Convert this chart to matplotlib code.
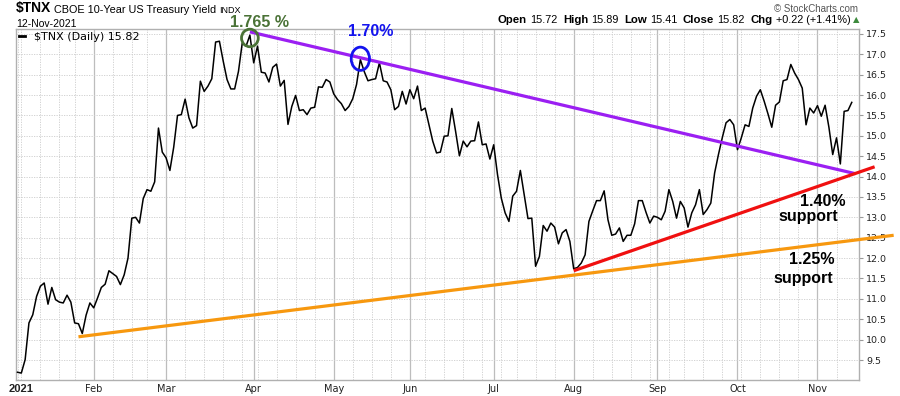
import numpy as np
import pandas as pd
import matplotlib
matplotlib.use("Agg")
import matplotlib.pyplot as plt
from matplotlib.patches import Ellipse
from matplotlib.lines import Line2D

# trading calendar (daily closes from 31-Dec-2020 to 12-Nov-2021)
holidays = ["2021-01-01", "2021-01-18", "2021-02-15", "2021-04-02", "2021-05-31",
            "2021-07-05", "2021-09-06", "2021-11-25"]
calendar = pd.bdate_range("2020-12-31", "2021-11-30", freq="C", holidays=holidays)
first_day, last_day = "2020-12-31", "2021-11-12"

# $TNX daily closes (yield x10)
tnx_close = [
    9.20,
    # Jan
    9.18, 9.51, 10.41, 10.61, 11.06, 11.31, 11.39, 10.87, 11.28, 10.98,
    10.92, 10.90, 11.09, 10.92, 10.41, 10.39, 10.15, 10.60, 10.90,
    # Feb
    10.78, 11.02, 11.28, 11.36, 11.69, 11.62, 11.55, 11.35, 11.59, 12.00,
    12.98, 13.00, 12.86, 13.46, 13.68, 13.64, 13.87, 15.19, 14.60,
    # Mar
    14.46, 14.15, 14.72, 15.50, 15.52, 15.90, 15.44, 15.19, 15.25, 16.34,
    16.09, 16.22, 16.40, 17.30, 17.32, 16.83, 16.38, 16.15, 16.15, 16.58,
    17.28, 17.20, 17.47,
    # Apr
    16.79, 17.20, 16.56, 16.54, 16.32, 16.68, 16.76, 16.22, 16.36, 15.28,
    15.72, 15.99, 15.62, 15.64, 15.52, 15.68, 15.70, 16.20, 16.19, 16.38, 16.32,
    # May
    16.03, 15.89, 15.79, 15.62, 15.72, 15.91, 16.26, 16.87, 16.58, 16.35,
    16.38, 16.40, 16.79, 16.35, 16.32, 16.13, 15.64, 15.72, 16.09, 15.78,
    # Jun
    16.13, 15.91, 16.22, 15.62, 15.68, 15.28, 14.87, 14.58, 14.60, 14.99,
    15.00, 15.67, 15.11, 14.51, 14.87, 14.73, 14.87, 14.88, 15.34, 14.78,
    14.80, 14.43,
    # Jul
    14.78, 14.05, 13.47, 13.11, 12.90, 13.52, 13.64, 14.15, 13.56, 12.97,
    12.98, 11.80, 12.04, 12.80, 12.66, 12.86, 12.76, 12.35, 12.62, 12.70, 12.41,
    # Aug
    11.74, 11.77, 11.88, 12.08, 12.90, 13.16, 13.41, 13.41, 13.65, 12.94,
    12.56, 12.59, 12.74, 12.41, 12.56, 12.56, 12.84, 13.41, 13.41, 13.12,
    12.86, 13.03,
    # Sep
    13.00, 12.94, 13.15, 13.68, 13.39, 12.98, 13.39, 13.23, 12.76, 13.11,
    13.31, 13.68, 13.07, 13.19, 13.35, 14.09, 14.54, 14.95, 15.32, 15.40, 15.27,
    # Oct
    14.66, 14.95, 15.27, 15.23, 15.68, 15.97, 16.13, 15.85, 15.54, 15.21,
    15.75, 15.83, 16.35, 16.38, 16.75, 16.54, 16.38, 16.17, 15.27, 15.68, 15.56,
    # Nov
    15.74, 15.48, 15.75, 15.21, 14.54, 14.95, 14.31, 15.60, 15.62, 15.82,
]

# hand-drawn trend lines (date, level)
resistance = [("2021-03-31", 17.55), ("2021-11-15", 14.07)]
support_140 = [("2021-08-02", 11.69), ("2021-11-22", 14.24)]
support_125 = [("2021-01-26", 10.07), ("2021-11-30", 12.56)]
peak_1765 = ("2021-03-31", 17.40)
peak_170 = ("2021-05-12", 16.89)

month_names = ["2021", "Feb", "Mar", "Apr", "May", "Jun", "Jul", "Aug", "Sep", "Oct", "Nov"]
y_ticks = np.arange(9.5, 17.51, 0.5)


def pos(date):
    return calendar.get_loc(pd.Timestamp(date))


days = calendar[(calendar >= first_day) & (calendar <= last_day)]
x = np.arange(len(days))

fig = plt.figure(figsize=(9, 3.96), dpi=100)
ax = fig.add_axes([16 / 900, 16 / 396, 843 / 900, 351 / 396])

# grid: weekly dotted, monthly solid
day_idx = pd.Series(x, index=days)
month_start = day_idx.groupby(days.to_period("M")).first().values[1:]  # Jan..Nov
week_start = day_idx.groupby(days.to_period("W")).first().values
for w in week_start:
    ax.axvline(w, color="#cccccc", lw=0.6, ls=(0, (1.5, 1.5)), zorder=0)
for m in month_start[1:]:
    ax.axvline(m, color="#bdbdbd", lw=0.9, zorder=0)
for yv in y_ticks:
    ax.axhline(yv, color="#cccccc", lw=0.6, ls=(0, (1.5, 1.5)), zorder=0)

ax.plot(x, tnx_close, color="black", lw=1.1, zorder=3)

for line, col in [(resistance, "#9b1ff2"), (support_140, "#f01010"), (support_125, "#f7980f")]:
    ax.plot([pos(d) for d, _ in line], [v for _, v in line], color=col, lw=2.3,
            solid_capstyle="butt", clip_on=False, zorder=4)

ax.add_patch(Ellipse((pos(peak_1765[0]), peak_1765[1]), 4.4, 0.43, fill=False,
                     ec="#4a7236", lw=2.0, zorder=5, clip_on=False))
ax.add_patch(Ellipse((pos(peak_170[0]), peak_170[1]), 4.8, 0.57, fill=False,
                     ec="#1414ee", lw=2.0, zorder=5, clip_on=False))

tf = dict(family="Liberation Sans", weight="bold", ha="center", va="baseline",
          clip_on=False, fontsize=11.5)
ax.text(63.4, 17.68, "1.765 %", color="#4a7236", **tf)
ax.text(92.8, 17.45, "1.70%", color="#1414ee", **tf)
ax.text(211.5, 13.28, "1.40%", color="black", **tf)
ax.text(207.5, 12.92, "support", color="black", **tf)
ax.text(208.5, 11.86, "1.25%", color="black", **tf)
ax.text(206.2, 11.38, "support", color="black", **tf)

ax.set_xlim(-0.4, 220.9)
ax.set_ylim(9.01, 17.62)

# axes styling
for s in ax.spines.values():
    s.set_color("#b0b0b0")
    s.set_linewidth(1.0)
ax.yaxis.tick_right()
ax.set_yticks(y_ticks)
ax.set_yticklabels([f"{v:.1f}" for v in y_ticks], family="DejaVu Sans", fontsize=6.8, color="#222222")
ax.tick_params(axis="y", length=3, width=0.8, color="#999999", pad=2)
ax.set_xticks(month_start)
ax.set_xticklabels(month_names, family="DejaVu Sans", fontsize=7, color="#222222")
lab0 = ax.get_xticklabels()[0]
lab0.set_fontweight("bold")
lab0.set_family("Liberation Sans")
lab0.set_fontsize(8)
ax.tick_params(axis="x", length=0, pad=3)

ax.legend([Line2D([], [], color="black", lw=2)], [r"\$TNX (Daily) 15.82"], loc="upper left",
          frameon=False, handlelength=0.6, handletextpad=0.8,
          borderaxespad=0.1, borderpad=0.15, prop={"family": "DejaVu Sans", "size": 8})

# header
fs = "Liberation Sans"
t = fig.text(16 / 900, 1 - 12 / 396, r"\$TNX", fontsize=10, weight="bold", family=fs)
t = ax.annotate("CBOE 10-Year US Treasury Yield", xy=(1, 0), xycoords=t, xytext=(2, 0),
                textcoords="offset points", fontsize=7.8, family=fs, va="bottom")
ax.annotate("INDX", xy=(1, 0), xycoords=t, xytext=(2, 0), textcoords="offset points",
            fontsize=6.5, family=fs, va="bottom")
fig.text(16 / 900, 1 - 27 / 396, "12-Nov-2021", fontsize=7.5, family=fs)
fig.text(858 / 900, 1 - 12 / 396, "© StockCharts.com", fontsize=7, family=fs, color="#555555", ha="right")

pieces = [("Open", True), ("15.72", False), ("High", True), ("15.89", False), ("Low", True),
          ("15.41", False), ("Close", True), ("15.82", False), ("Chg", True), ("+0.22 (+1.41%)", False)]
prev = None
for s, bold in pieces:
    kw = dict(fontsize=8.2 if bold else 7.8, weight="bold" if bold else "normal", family=fs)
    if prev is None:
        prev = fig.text(498 / 900, 1 - 23 / 396, s, **kw)
    else:
        gap = 3.8 if bold else 2.4
        prev = ax.annotate(s, xy=(1, 0), xycoords=prev, xytext=(gap, 0),
                           textcoords="offset points", va="bottom", **kw)
ax.annotate("▲", xy=(1, 0), xycoords=prev, xytext=(2, 0.5), textcoords="offset points",
            va="bottom", fontsize=6, color="#3c8a3c", family="DejaVu Sans")

fig.savefig("out.png", dpi=100)
